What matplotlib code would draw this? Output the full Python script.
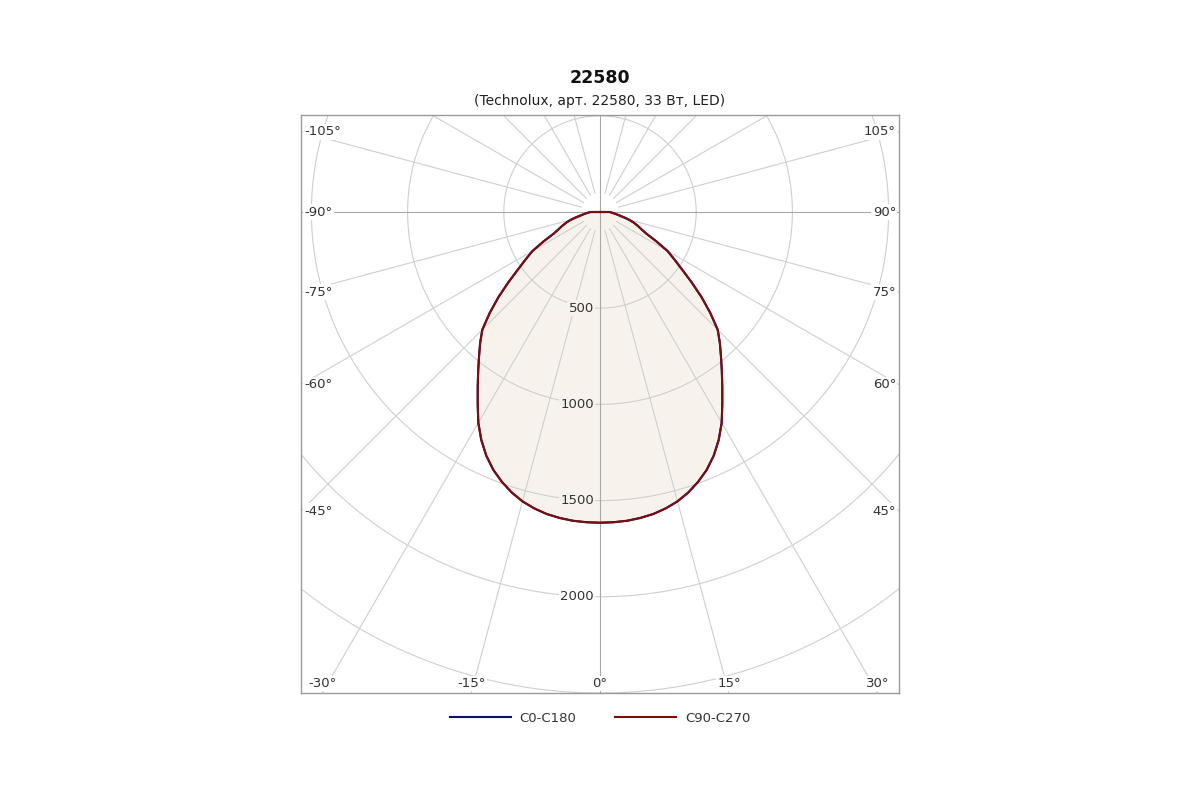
import numpy as np
import matplotlib
matplotlib.use('Agg')
import matplotlib.pyplot as plt

plt.rcParams.update({
    "font.family": ["DejaVu Sans"],
})

# --- data (candela, gamma angle from nadir) ---
gamma = [0, 2.5, 5, 7.5, 10, 12.5, 15, 17.5, 20, 22.5, 25, 27.5, 30, 32.5, 35, 37.5,
         40, 42.5, 45, 47.5, 50, 52.5, 55, 57.5, 60, 62.5, 65, 67.5, 70, 72.5, 75,
         77.5, 80, 82.5, 85, 87.5, 90]
c0_c180 = [1615, 1614, 1611, 1604, 1594, 1578, 1557, 1528, 1492, 1450, 1398, 1336,
           1265, 1183, 1108, 1040, 978, 922, 865, 778, 690, 600, 520, 458, 405, 330,
           265, 232, 208, 184, 158, 128, 102, 84, 70, 59, 50]
c90_c270 = [1615, 1614, 1611, 1604, 1594, 1578, 1557, 1528, 1492, 1450, 1398, 1336,
            1265, 1183, 1108, 1040, 978, 922, 865, 778, 690, 600, 520, 458, 405, 330,
            265, 232, 208, 184, 158, 128, 102, 84, 70, 59, 50]

rings = [500, 1000, 1500, 2000, 2500]
ray_angles = list(range(-180, 180, 15))
labelled = list(range(-105, 106, 15))

title = "22580"
subtitle = "(Technolux, арт. 22580, 33 Вт, LED)"
series_names = ["C0-C180", "C90-C270"]
series_colors = ["#0b1170", "#7d0d0d"]
fill_color = "#f7f3ec"

# --- geometry of the frame (cd per pixel) ---
cd_px = 500 / 96.2
xmin, xmax = -299 * cd_px, 299 * cd_px
ymin, ymax = -481 * cd_px, 97 * cd_px


def curve(vals):
    g = np.array(gamma, dtype=float)
    v = np.array(vals, dtype=float)
    ang = np.concatenate([[-95], -g[::-1], g[1:], [95]])
    r = np.concatenate([[0], v[::-1], v[1:], [0]])
    t = np.radians(ang)
    return r * np.sin(t), -r * np.cos(t)


fig = plt.figure(figsize=(12, 8), dpi=100)
ax = fig.add_axes([301 / 1200, 107 / 800, 598 / 1200, 578 / 800])
ax.set_xlim(xmin, xmax)
ax.set_ylim(ymin, ymax)
ax.set_xticks([])
ax.set_yticks([])
for s in ax.spines.values():
    s.set_color("#9a9a9a")
    s.set_linewidth(1.0)

# fill under the grid
x2, y2 = curve(c90_c270)
ax.fill(x2, y2, color=fill_color, zorder=1, lw=0)

# rings
phi = np.linspace(0, 2 * np.pi, 721)
for r in rings:
    ax.plot(r * np.cos(phi), r * np.sin(phi), color="#cfcfcf", lw=0.8, zorder=2)

# rays
big = 4000
for a in ray_angles:
    t = np.radians(a)
    r0 = 0 if a % 90 == 0 else 100
    col = "#a8a8a8" if a % 90 == 0 else "#cfcfcf"
    ax.plot([r0 * np.sin(t), big * np.sin(t)], [-r0 * np.cos(t), -big * np.cos(t)],
            color=col, lw=0.8, zorder=2)

# angle labels where rays meet the frame sides / bottom
lbl = dict(fontsize=9.5, color="#333333", zorder=5,
           bbox=dict(facecolor="white", edgecolor="none", pad=1))
for a in labelled:
    t = np.radians(a)
    dx, dy = np.sin(t), -np.cos(t)
    ts = xmax / abs(dx) if dx != 0 else np.inf
    tb = ymin / dy if dy < 0 else np.inf
    if tb <= ts:
        ax.text(tb * dx, ymin + 3 * cd_px, f"{a}°", ha="center", va="bottom", **lbl)
    else:
        y = ts * dy
        if dx < 0:
            ax.text(xmin + 3 * cd_px, y, f"{a}°", ha="left", va="center", **lbl)
        else:
            ax.text(xmax - 3 * cd_px, y, f"{a}°", ha="right", va="center", **lbl)

# ring labels
for r in rings[:-1]:
    bg = fill_color if r < c90_c270[0] else "white"
    ax.text(-6 * cd_px, -r, str(r), ha="right", va="center", fontsize=9.5,
            color="#333333", zorder=5,
            bbox=dict(facecolor=bg, edgecolor="none", pad=1))

# curves
x1, y1 = curve(c0_c180)
l1, = ax.plot(x1, y1, color=series_colors[0], lw=1.5, zorder=4, label=series_names[0])
l2, = ax.plot(x2, y2, color=series_colors[1], lw=1.5, zorder=4, label=series_names[1])

fig.text(0.5, 1 - 78 / 800, title, ha="center", va="center", fontsize=12.5,
         fontweight="bold", color="#111111")
fig.text(0.5, 1 - 101 / 800, subtitle, ha="center", va="center", fontsize=10,
         color="#222222")

fig.legend(handles=[l1, l2], loc="center", bbox_to_anchor=(0.5, 1 - 718 / 800),
           ncol=2, frameon=False, fontsize=9.5, handlelength=4.6,
           handletextpad=0.7, columnspacing=2.9, labelcolor="#333333")

fig.savefig("out.png", dpi=100, facecolor="white")
